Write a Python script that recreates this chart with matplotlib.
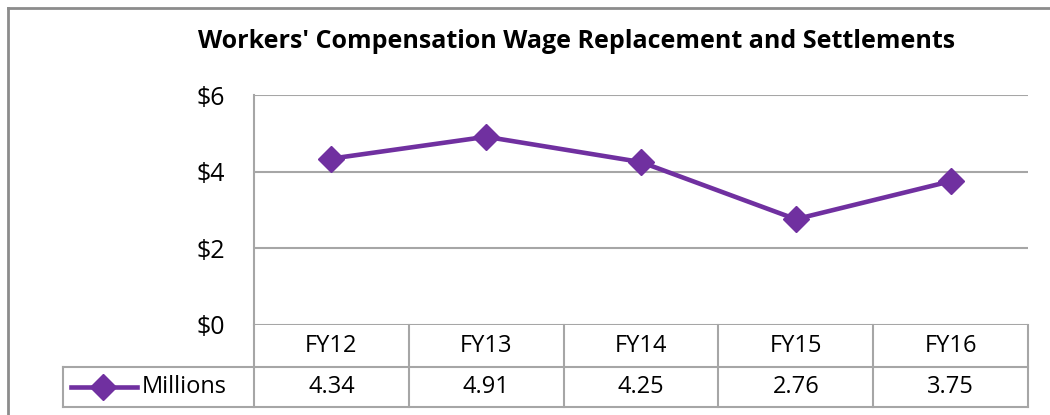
import matplotlib.pyplot as plt
from matplotlib.lines import Line2D

plt.rcParams['font.family'] = ['Open Sans', 'DejaVu Sans']

years = ["FY12", "FY13", "FY14", "FY15", "FY16"]
millions = [4.34, 4.91, 4.25, 2.76, 3.75]
y_ticks = [0, 2, 4, 6]
series_name = "Millions"
title = "Workers' Compensation Wage Replacement and Settlements"

purple = "#7030A0"
grey = "#A6A6A6"

W, H = 1050, 415
fig = plt.figure(figsize=(W / 100, H / 100), dpi=100)

# outer chart border (bottom cut off in the original)
fig.add_artist(Line2D([8 / W, 8 / W], [0, 1 - 8 / H], color="#8C8C8C", lw=2))
fig.add_artist(Line2D([8 / W, 1], [1 - 8 / H, 1 - 8 / H], color="#8C8C8C", lw=2))

left, right, top, bottom = 254, 1028, 95, 325
ax = fig.add_axes([left / W, 1 - bottom / H, (right - left) / W, (bottom - top) / H])
ax.plot(range(len(years)), millions, color=purple, lw=3.3, marker="D",
        markersize=13, zorder=3)
ax.set_xlim(-0.5, len(years) - 0.5)
ax.set_ylim(0, 6)
ax.set_yticks(y_ticks)
ax.set_yticklabels([f"${v}" for v in y_ticks], fontsize=18)
ax.tick_params(axis="y", length=0, pad=21)
ax.set_xticks([])
for y in y_ticks:
    ax.axhline(y, color=grey, lw=1.5, zorder=1)
for s in ["top", "right", "bottom"]:
    ax.spines[s].set_visible(False)
ax.spines["left"].set_color(grey)
ax.spines["left"].set_linewidth(1.5)

fig.text(577 / W, 1 - 42 / H, title, ha="center", va="center",
         fontsize=18, fontweight="bold")

# data table below the plot
row1, row2 = 367, 407
key_left = 63
col_w = (right - left) / len(years)
fy = lambda p: 1 - p / H
fx = lambda p: p / W
tl = dict(color=grey, lw=1.5)
fig.add_artist(Line2D([fx(left), fx(left)], [fy(bottom), fy(row2)], **tl))
fig.add_artist(Line2D([fx(key_left), fx(right)], [fy(row1), fy(row1)], **tl))
fig.add_artist(Line2D([fx(key_left), fx(right)], [fy(row2), fy(row2)], **tl))
fig.add_artist(Line2D([fx(key_left), fx(key_left)], [fy(row1), fy(row2)], **tl))
for i in range(len(years)):
    xr = left + col_w * (i + 1)
    fig.add_artist(Line2D([fx(xr), fx(xr)], [fy(bottom), fy(row2)], **tl))
    xc = left + col_w * (i + 0.5)
    fig.text(fx(xc), fy((bottom + row1) / 2), years[i], ha="center",
             va="center", fontsize=17)
    fig.text(fx(xc), fy((row1 + row2) / 2), f"{millions[i]:.2f}", ha="center",
             va="center", fontsize=17)

# legend key
ky = fy((row1 + row2) / 2)
fig.add_artist(Line2D([fx(71), fx(137)], [ky, ky], color=purple, lw=3.3))
fig.add_artist(Line2D([fx(103)], [ky], color=purple, marker="D",
                      markersize=13, lw=0))
fig.text(fx(142), ky, series_name, ha="left", va="center", fontsize=17)

fig.savefig("out.png", dpi=100)
